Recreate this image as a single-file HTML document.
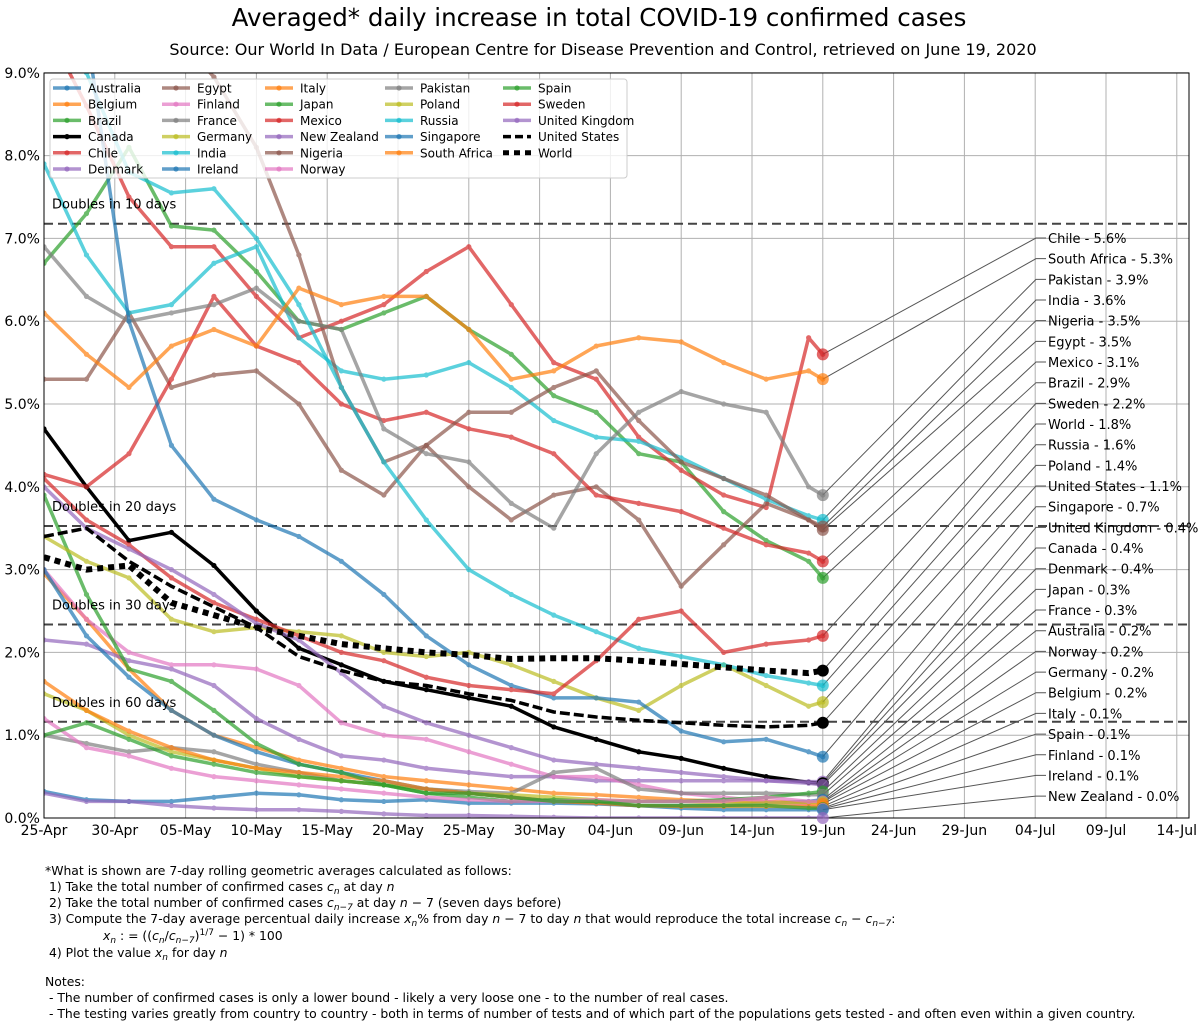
<!DOCTYPE html>
<html><head><meta charset="utf-8"><style>
body{margin:0;background:#fff;}
svg{display:block;font-family:"DejaVu Sans","Liberation Sans",sans-serif;}
</style></head><body>
<svg id="chart" width="1200" height="1026" viewBox="0 0 1200 1026" xmlns="http://www.w3.org/2000/svg">
<text x="599" y="26" font-size="24.5" text-anchor="middle">Averaged* daily increase in total COVID-19 confirmed cases</text>
<text x="603" y="55" font-size="16" text-anchor="middle">Source: Our World In Data / European Centre for Disease Prevention and Control, retrieved on June 19, 2020</text>
<g id="grid"></g>
<g id="plot"></g>
<g id="axes"></g>
<g id="legend"></g>
<g id="labels"></g>
<g font-size="12.4" fill="#000">
<text x="45" y="875">*What is shown are 7-day rolling geometric averages calculated as follows:</text>
<text x="45" y="891" xml:space="preserve"> 1) Take the total number of confirmed cases <tspan font-style="italic">c</tspan><tspan font-style="italic" font-size="9" dy="3">n</tspan><tspan dy="-3"> at day </tspan><tspan font-style="italic">n</tspan></text>
<text x="45" y="907" xml:space="preserve"> 2) Take the total number of confirmed cases <tspan font-style="italic">c</tspan><tspan font-style="italic" font-size="9" dy="3">n−7</tspan><tspan dy="-3"> at day </tspan><tspan font-style="italic">n</tspan> − 7 (seven days before)</text>
<text x="45" y="923" xml:space="preserve"> 3) Compute the 7-day average percentual daily increase <tspan font-style="italic">x</tspan><tspan font-style="italic" font-size="9" dy="3">n</tspan><tspan dy="-3">% from day </tspan><tspan font-style="italic">n</tspan> − 7 to day <tspan font-style="italic">n</tspan> that would reproduce the total increase <tspan font-style="italic">c</tspan><tspan font-style="italic" font-size="9" dy="3">n</tspan><tspan dy="-3"> − </tspan><tspan font-style="italic">c</tspan><tspan font-style="italic" font-size="9" dy="3">n−7</tspan><tspan dy="-3">:</tspan></text>
<text x="103" y="940" xml:space="preserve"><tspan font-style="italic">x</tspan><tspan font-style="italic" font-size="9" dy="3">n</tspan><tspan dy="-3"> : = ((</tspan><tspan font-style="italic">c</tspan><tspan font-style="italic" font-size="9" dy="3">n</tspan><tspan dy="-3">/</tspan><tspan font-style="italic">c</tspan><tspan font-style="italic" font-size="9" dy="3">n−7</tspan><tspan dy="-3">)</tspan><tspan font-size="9" dy="-5">1/7</tspan><tspan dy="5"> − 1) * 100</tspan></text>
<text x="45" y="957" xml:space="preserve"> 4) Plot the value <tspan font-style="italic">x</tspan><tspan font-style="italic" font-size="9" dy="3">n</tspan><tspan dy="-3"> for day </tspan><tspan font-style="italic">n</tspan></text>
<text x="45" y="986">Notes:</text>
<text x="45" y="1002" xml:space="preserve"> - The number of confirmed cases is only a lower bound - likely a very loose one - to the number of real cases.</text>
<text x="45" y="1018" xml:space="preserve"> - The testing varies greatly from country to country - both in terms of number of tests and of which part of the populations gets tested - and often even within a given country.</text>
</g>
</svg>
<script>
// ---- data ----
const days = [0,3,6,9,12,15,18,21,24,27,30,33,36,39,42,45,48,51,54,55];
const countries = ["Australia","Belgium","Brazil","Canada","Chile","Denmark","Egypt","Finland","France","Germany","India","Ireland","Italy","Japan","Mexico","New Zealand","Nigeria","Norway","Pakistan","Poland","Russia","Singapore","South Africa","Spain","Sweden","United Kingdom","United States","World"];
const australia = [0.32,0.22,0.2,0.2,0.25,0.3,0.28,0.22,0.2,0.22,0.18,0.18,0.18,0.17,0.15,0.15,0.15,0.18,0.2,0.22];
const belgium = [2.95,2.4,1.8,1.3,1.0,0.85,0.7,0.6,0.5,0.45,0.4,0.35,0.3,0.28,0.25,0.22,0.2,0.2,0.18,0.17];
const brazil = [6.7,7.3,8.1,7.15,7.1,6.6,6.0,5.9,6.1,6.3,5.9,5.6,5.1,4.9,4.4,4.3,3.7,3.35,3.1,2.9];
const canada = [4.7,4.0,3.35,3.45,3.05,2.5,2.05,1.85,1.65,1.55,1.45,1.35,1.1,0.95,0.8,0.72,0.6,0.5,0.43,0.42];
const chile = [9.6,8.6,7.5,6.9,6.9,6.3,5.8,6.0,6.2,6.6,6.9,6.2,5.5,5.3,4.6,4.2,3.9,3.75,5.8,5.6];
const denmark = [2.15,2.1,1.9,1.8,1.6,1.2,0.95,0.75,0.7,0.6,0.55,0.5,0.5,0.45,0.45,0.45,0.45,0.45,0.42,0.4];
const egypt = [5.3,5.3,6.1,5.2,5.35,5.4,5.0,4.2,3.9,4.5,4.0,3.6,3.9,4.0,3.6,2.8,3.3,3.8,3.6,3.48];
const finland = [3.0,2.4,2.0,1.85,1.85,1.8,1.6,1.15,1.0,0.95,0.8,0.65,0.5,0.5,0.4,0.3,0.25,0.2,0.15,0.11];
const france = [1.0,0.9,0.8,0.85,0.8,0.65,0.55,0.45,0.4,0.35,0.32,0.3,0.55,0.6,0.35,0.3,0.3,0.3,0.28,0.28];
const germany = [1.5,1.3,1.0,0.8,0.7,0.6,0.5,0.45,0.4,0.35,0.3,0.28,0.25,0.22,0.2,0.2,0.18,0.18,0.19,0.19];
const india = [7.9,6.8,6.1,6.2,6.7,6.9,5.8,5.4,5.3,5.35,5.5,5.2,4.8,4.6,4.55,4.35,4.1,3.85,3.65,3.6];
const ireland = [3.0,2.2,1.7,1.3,1.0,0.8,0.65,0.55,0.45,0.35,0.3,0.25,0.2,0.18,0.15,0.12,0.1,0.1,0.1,0.1];
const italy = [1.65,1.3,1.05,0.85,0.7,0.6,0.55,0.5,0.45,0.35,0.3,0.25,0.2,0.18,0.15,0.14,0.14,0.14,0.14,0.14];
const japan = [3.9,2.7,1.8,1.65,1.3,0.9,0.65,0.55,0.4,0.3,0.25,0.2,0.22,0.2,0.2,0.2,0.22,0.25,0.3,0.32];
const mexico = [4.15,4.0,4.4,5.3,6.3,5.7,5.5,5.0,4.8,4.9,4.7,4.6,4.4,3.9,3.8,3.7,3.5,3.3,3.2,3.1];
const newZealand = [0.3,0.2,0.2,0.15,0.12,0.1,0.1,0.08,0.05,0.03,0.03,0.02,0.01,0,0,0,0,0,0,0];
const nigeria = [12,11,10.5,9.5,8.95,8.1,6.8,5.2,4.3,4.5,4.9,4.9,5.2,5.4,4.8,4.3,4.1,3.9,3.6,3.52];
const norway = [1.2,0.85,0.75,0.6,0.5,0.45,0.4,0.35,0.3,0.25,0.22,0.2,0.2,0.22,0.2,0.2,0.2,0.25,0.2,0.2];
const pakistan = [6.9,6.3,6.0,6.1,6.2,6.4,6.0,5.9,4.7,4.4,4.3,3.8,3.5,4.4,4.9,5.15,5.0,4.9,4.0,3.9];
const poland = [3.4,3.1,2.9,2.4,2.25,2.3,2.25,2.2,2.0,1.95,2.0,1.85,1.65,1.45,1.3,1.6,1.85,1.6,1.35,1.4];
const russia = [10.5,9.0,7.8,7.55,7.6,7.0,6.2,5.2,4.3,3.6,3.0,2.7,2.45,2.25,2.05,1.95,1.85,1.72,1.63,1.6];
const singapore = [12,9.5,6.0,4.5,3.85,3.6,3.4,3.1,2.7,2.2,1.85,1.6,1.45,1.45,1.4,1.05,0.92,0.95,0.8,0.74];
const southAfrica = [6.1,5.6,5.2,5.7,5.9,5.7,6.4,6.2,6.3,6.3,5.9,5.3,5.4,5.7,5.8,5.75,5.5,5.3,5.4,5.3];
const spain = [1.0,1.15,0.95,0.75,0.65,0.55,0.5,0.45,0.4,0.3,0.3,0.25,0.2,0.2,0.15,0.15,0.15,0.15,0.12,0.12];
const sweden = [4.1,3.6,3.3,2.9,2.6,2.4,2.2,2.0,1.9,1.7,1.6,1.55,1.5,1.9,2.4,2.5,2.0,2.1,2.15,2.2];
const unitedKingdom = [4.0,3.5,3.25,3.0,2.7,2.35,2.15,1.75,1.35,1.15,1.0,0.85,0.7,0.65,0.6,0.55,0.5,0.45,0.44,0.44];
const unitedStates = [3.4,3.5,3.1,2.8,2.55,2.3,1.95,1.78,1.65,1.6,1.5,1.42,1.28,1.22,1.18,1.15,1.12,1.1,1.12,1.15];
const world = [3.15,3.0,3.05,2.6,2.45,2.3,2.2,2.1,2.05,2.0,1.97,1.92,1.93,1.93,1.9,1.86,1.82,1.78,1.75,1.78];
const seriesValues = [australia,belgium,brazil,canada,chile,denmark,egypt,finland,france,germany,india,ireland,italy,japan,mexico,newZealand,nigeria,norway,pakistan,poland,russia,singapore,southAfrica,spain,sweden,unitedKingdom,unitedStates,world];
const xTickLabels = ["25-Apr","30-Apr","05-May","10-May","15-May","20-May","25-May","30-May","04-Jun","09-Jun","14-Jun","19-Jun","24-Jun","29-Jun","04-Jul","09-Jul","14-Jul"];
const yTickValues = [0,1,2,3,4,5,6,7,8,9];
const doublingDays = [10,20,30,60];

// ---- styles / scales ----
const palette = ["#1f77b4","#ff7f0e","#2ca02c","#000","#d62728","#9467bd","#8c564b","#e377c2","#7f7f7f","#bcbd22","#17becf","#1f77b4","#ff7f0e","#2ca02c","#d62728","#9467bd","#8c564b","#e377c2","#7f7f7f","#bcbd22","#17becf","#1f77b4","#ff7f0e","#2ca02c","#d62728","#9467bd","#000","#000"];
const L=44, R=1189, T=73, B=818, DAYPX=14.16, PCTPX=82.8;
const xs = d => L + d*DAYPX;
const ys = v => B - v*PCTPX;
const NS="http://www.w3.org/2000/svg";
function mk(tag, attrs, parent){const e=document.createElementNS(NS,tag);for(const k in attrs)e.setAttribute(k,attrs[k]);parent.appendChild(e);return e;}
const grid=document.getElementById('grid'), plot=document.getElementById('plot'), axes=document.getElementById('axes'), legend=document.getElementById('legend'), labels=document.getElementById('labels');

const defs=mk('defs',{},document.getElementById('chart'));
const cp=mk('clipPath',{id:'clip'},defs); mk('rect',{x:L,y:T,width:R-L,height:B-T},cp);
plot.setAttribute('clip-path','url(#clip)');

xTickLabels.forEach((lab,i)=>{
  const x=xs(i*5);
  const g=mk('line',{x1:x,x2:x,y1:T,y2:B,stroke:'#b0b0b0','stroke-width':1},grid);
   
  const t=mk('text',{x:x,y:B+17,'font-size':14,'text-anchor':'middle'},axes); t.textContent=lab;
   
});
yTickValues.forEach(v=>{
  const y=ys(v);
  const g=mk('line',{x1:L,x2:R,y1:y,y2:y,stroke:'#b0b0b0','stroke-width':1},grid);
   
  const t=mk('text',{x:L-4,y:y+5,'font-size':14,'text-anchor':'end'},axes); t.textContent=v.toFixed(1)+'%';
   
});
const frame=mk('rect',{x:L,y:T,width:R-L,height:B-T,fill:'none',stroke:'#000','stroke-width':1},axes);
 

doublingDays.forEach(n=>{
  const v=(Math.pow(2,1/n)-1)*100, y=ys(v);
  const l=mk('line',{x1:L,x2:R,y1:y,y2:y,stroke:'#444','stroke-width':2,'stroke-dasharray':'9,5'},plot);
   
  const t=mk('text',{x:52,y:y-15,'font-size':13},axes); t.textContent='Doubles in '+n+' days';
   
});

function styleFor(i){
  if(countries[i]==='Canada') return {c:'#000',w:3.5,dash:null,op:1};
  if(countries[i]==='United States') return {c:'#000',w:3.5,dash:'10,4',op:1};
  if(countries[i]==='World') return {c:'#000',w:6,dash:'6,5',op:1};
  return {c:palette[i],w:3.5,dash:null,op:0.7};
}
countries.forEach((name,i)=>{
  const vals=seriesValues[i], s=styleFor(i);
  const g=mk('g',{opacity:s.op},plot);
  
  
  const pts=vals.map((v,k)=>xs(days[k]).toFixed(1)+','+ys(v).toFixed(1)).join(' ');
  const a={points:pts,fill:'none',stroke:s.c,'stroke-width':s.w,'stroke-linejoin':'round'};
  if(s.dash)a['stroke-dasharray']=s.dash;
  mk('polyline',a,g);
  if(name!=='World'&&name!=='United States') vals.forEach((v,k)=>{ mk('circle',{cx:xs(days[k]),cy:ys(v),r:2.6,fill:s.c},g); });
});

const order=countries.map((n,i)=>i).sort((a,b)=>seriesValues[b][seriesValues[b].length-1]-seriesValues[a][seriesValues[a].length-1]);
order.forEach((i,rank)=>{
  const vals=seriesValues[i], last=vals[vals.length-1], ex=xs(days[days.length-1]), ey=ys(last);
  const ly=238+rank*20.67, s=styleFor(i);
  const ln=mk('polyline',{points:ex+','+ey+' 1036,'+ly+' 1046,'+ly,fill:'none',stroke:'#555','stroke-width':1},labels);
   
  const dot=mk('circle',{cx:ex,cy:ey,r:6,fill:s.c,opacity:s.op},labels);
   
  const t=mk('text',{x:1048,y:ly+5,'font-size':13},labels); t.textContent=countries[i]+' - '+last.toFixed(1)+'%';
   
});

const lb=mk('rect',{x:50,y:79,width:577,height:99,fill:'#fff','fill-opacity':0.8,stroke:'#ccc',rx:3},legend);
 
const colX=[53,162,265,385,503];
countries.forEach((name,i)=>{
  let c,r;
  if(i<18){c=Math.floor(i/6); r=i%6;} else {c=3+Math.floor((i-18)/5); r=(i-18)%5;}
  const x=colX[c], y=88+r*16.2, s=styleFor(i);
  const g=mk('g',{},legend);
   
  const a={x1:x,x2:x+28,y1:y,y2:y,stroke:s.c,'stroke-width':name==='World'?5:3.5,opacity:s.op};
  if(s.dash)a['stroke-dasharray']=name==='World'?'6,5':'8,4';
  mk('line',a,g);
  if(name!=='World'&&name!=='United States') mk('circle',{cx:x+14,cy:y,r:2.6,fill:s.c,opacity:s.op},g);
  const t=mk('text',{x:x+35,y:y+4.5,'font-size':12},g); t.textContent=name;
});
</script>
</body></html>
